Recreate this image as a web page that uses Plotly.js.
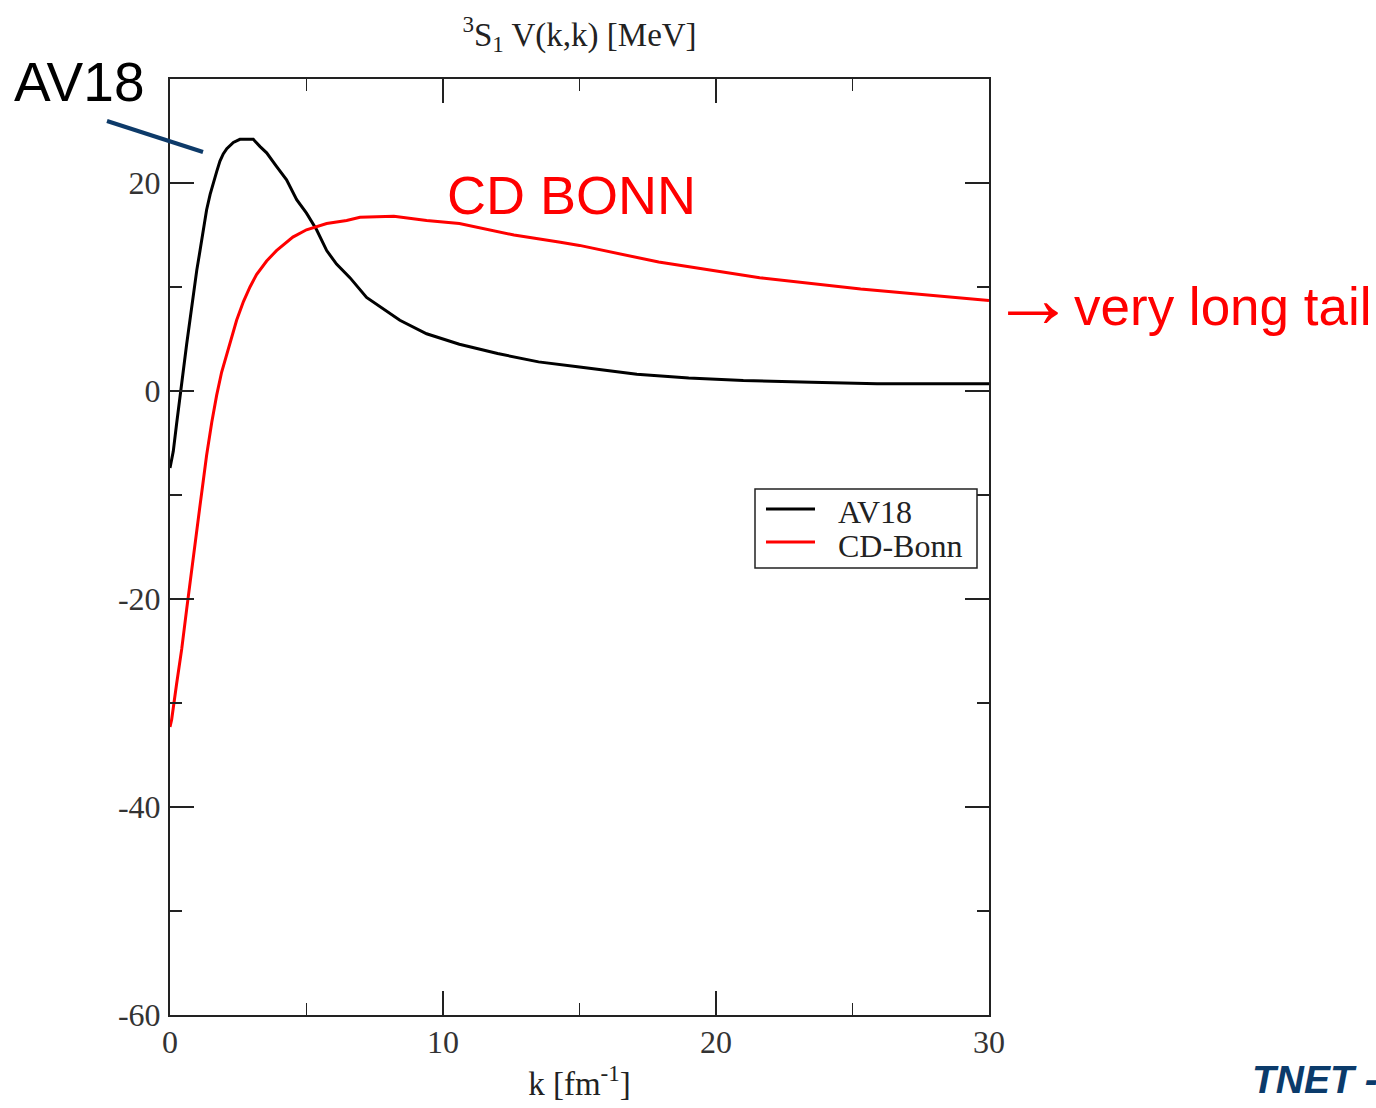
<!DOCTYPE html>
<html>
<head>
<meta charset="utf-8">
<script src="https://cdn.plot.ly/plotly-3.0.1.min.js"></script>
<style>
  html, body { margin: 0; padding: 0; background: #ffffff; }
  #chart { width: 1376px; height: 1108px; }
</style>
</head>
<body>
<div id="chart"></div>
<script>
// Diagonal 3S1 matrix elements V(k,k) in MeV versus momentum k [fm^-1]
const av18K = [0, 0.12, 0.24, 0.37, 0.49, 0.61, 0.73, 0.85, 0.98, 1.1, 1.22, 1.34, 1.47, 1.59, 1.71, 1.83, 1.95, 2.08, 2.32, 2.56, 3.05, 3.3, 3.54, 3.9, 4.27, 4.64, 5.0, 5.37, 5.74, 6.1, 6.59, 7.2, 7.94, 8.42, 9.4, 10.6, 12.0, 13.5, 15.0, 17.1, 19.0, 21.0, 23.5, 25.9, 28.0, 30.0];
const av18V = [-7.4, -5.8, -3.2, -0.3, 1.9, 4.5, 6.8, 9.3, 11.6, 13.5, 15.6, 17.4, 18.9, 20.1, 21.1, 22.1, 22.8, 23.3, 23.9, 24.2, 24.2, 23.5, 22.9, 21.6, 20.3, 18.4, 17.1, 15.5, 13.5, 12.2, 10.9, 9.0, 7.7, 6.8, 5.5, 4.5, 3.6, 2.8, 2.3, 1.6, 1.25, 1.0, 0.85, 0.7, 0.7, 0.7];

const bonnK = [0, 0.06, 0.24, 0.43, 0.61, 0.79, 0.92, 1.1, 1.22, 1.34, 1.53, 1.71, 1.89, 2.08, 2.26, 2.44, 2.69, 2.93, 3.17, 3.54, 3.9, 4.5, 5.0, 5.74, 6.47, 6.96, 8.2, 9.4, 10.6, 12.6, 14.3, 15.0, 17.9, 21.6, 25.3, 28.0, 30.0];
const bonnV = [-32.3, -31.6, -28.2, -24.8, -21.0, -17.5, -14.5, -11.0, -8.6, -6.2, -3.0, -0.4, 1.8, 3.6, 5.2, 6.8, 8.6, 10.0, 11.2, 12.5, 13.5, 14.8, 15.5, 16.1, 16.4, 16.7, 16.8, 16.4, 16.1, 15.0, 14.3, 14.0, 12.4, 10.9, 9.8, 9.2, 8.7];

const seriesNames = ['AV18', 'CD-Bonn'];
const seriesColors = ['#000000', '#ff0000'];

const yTickVals = [-60, -40, -20, 0, 20];
const yTickText = ['-60', '-40', '-20', '0', '20'];

const serif = 'Liberation Serif, Times New Roman, serif';
const sans = 'Liberation Sans, Arial, sans-serif';

const traces = seriesNames.map((name, i) => ({
  x: i === 0 ? av18K : bonnK,
  y: i === 0 ? av18V : bonnV,
  name: name, mode: 'lines', showlegend: false,
  line: { color: seriesColors[i], width: 3 }
}));

const axisCommon = {
  showgrid: false, zeroline: false,
  showline: true, linecolor: '#222', linewidth: 2,
  mirror: 'allticks', ticks: 'inside', ticklen: 24, tickwidth: 1.5, tickcolor: '#222',
  tickfont: { family: serif, size: 32, color: '#333' }
};

// pixel helpers for the plot frame (l=170, t=79, w=819, h=936)
const px = v => (v - 170) / 819;
const py = v => (1015 - v) / 936;

// legend frame, sample lines and labels
const legendShapes = [
  { type: 'rect', xref: 'paper', yref: 'paper', x0: px(755), x1: px(977), y0: py(489), y1: py(568),
    fillcolor: '#ffffff', line: { color: '#222', width: 1.5 }, layer: 'above' }
].concat(seriesNames.map((n, i) => ({
  type: 'line', xref: 'paper', yref: 'paper', x0: px(766), x1: px(815),
  y0: py(509 + 33 * i), y1: py(509 + 33 * i),
  line: { color: seriesColors[i], width: 3 }, layer: 'above'
})));
const legendLabels = seriesNames.map((n, i) => ({
  text: n, xref: 'paper', yref: 'paper', x: px(836), y: py(512 + 34 * i),
  xanchor: 'left', yanchor: 'middle', showarrow: false,
  font: { family: serif, size: 32, color: '#222' }
}));

const layout = {
  width: 1376, height: 1108,
  margin: { l: 170, r: 387, t: 79, b: 93 },
  paper_bgcolor: '#ffffff', plot_bgcolor: '#ffffff',
  showlegend: false,
  title: {
    text: '<sup>3</sup>S<sub>1</sub> V(k,k) [MeV]',
    font: { family: serif, size: 33, color: '#222' },
    x: 0.5, xref: 'paper', xanchor: 'center',
    y: 1 - 34 / 1108, yref: 'container', yanchor: 'middle'
  },
  xaxis: Object.assign({}, axisCommon, {
    range: [0, 30], dtick: 10, tick0: 0,
    minor: { dtick: 5, ticks: 'inside', ticklen: 12, tickwidth: 1.5, tickcolor: '#222' },
    ticklabelstandoff: -2,
    title: { text: 'k [fm<sup>-1</sup>]', font: { family: serif, size: 33, color: '#222' }, standoff: 12 }
  }),
  yaxis: Object.assign({}, axisCommon, {
    range: [-60, 30], tickmode: 'array', tickvals: yTickVals, ticktext: yTickText,
    minor: { tickmode: 'linear', tick0: 0, dtick: 10, ticks: 'inside', ticklen: 12, tickwidth: 1.5, tickcolor: '#222' },
    ticklabelstandoff: 1
  }),
  shapes: [
    { type: 'line', xref: 'paper', yref: 'paper',
      x0: px(107), y0: py(121), x1: px(203), y1: py(152),
      line: { color: '#0d3a69', width: 4 } }
  ].concat(legendShapes),
  annotations: [
    { text: 'AV18', xref: 'paper', yref: 'paper', x: px(12), y: py(82),
      xanchor: 'left', yanchor: 'middle', showarrow: false,
      font: { family: sans, size: 55, color: '#000000' } },
    { text: 'CD BONN', xref: 'paper', yref: 'paper', x: px(445), y: py(195),
      xanchor: 'left', yanchor: 'middle', showarrow: false,
      font: { family: sans, size: 54, color: '#ff0000' } },
    { text: '\u2192', xref: 'paper', yref: 'paper', x: px(989), y: py(298),
      xanchor: 'left', yanchor: 'middle', showarrow: false,
      font: { family: sans, size: 84, color: '#ff0000' } },
    { text: 'very long tail', xref: 'paper', yref: 'paper', x: px(1072), y: py(306),
      xanchor: 'left', yanchor: 'middle', showarrow: false,
      font: { family: sans, size: 53, color: '#ff0000' } },
    { text: '<b><i>TNET -</i></b>', xref: 'paper', yref: 'paper', x: px(1250), y: py(1079),
      xanchor: 'left', yanchor: 'middle', showarrow: false,
      font: { family: sans, size: 39, color: '#0b3b6b' } }
  ].concat(legendLabels)
};

Plotly.newPlot('chart', traces, layout, { displayModeBar: false, staticPlot: true });
</script>
</body>
</html>
